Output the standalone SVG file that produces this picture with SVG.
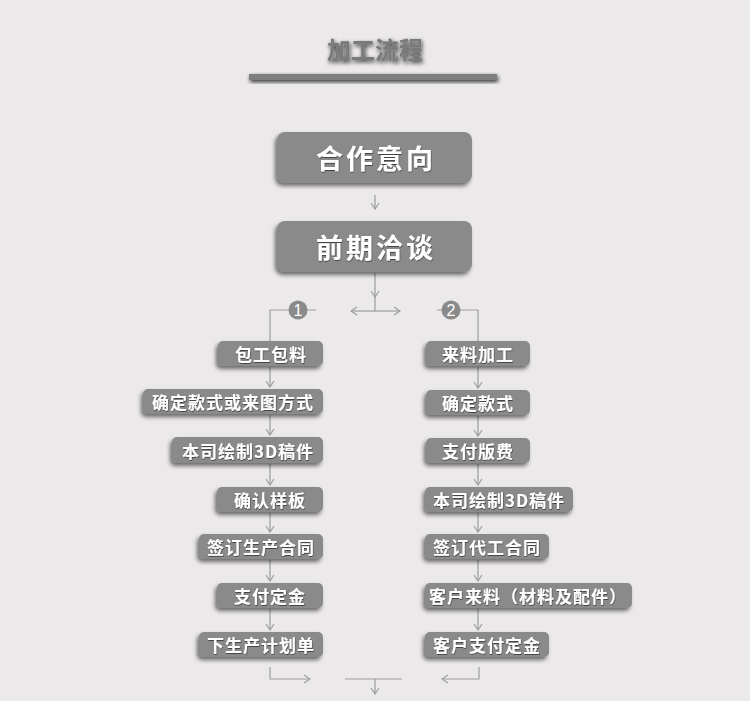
<svg xmlns="http://www.w3.org/2000/svg" width="750" height="701" viewBox="0 0 750 701">
<defs>
<style>
.box{fill:#8a8a8a;filter:url(#sh);}
.t{fill:#fff;font-family:"Noto Sans CJK SC","Noto Sans",sans-serif;font-weight:bold;font-size:17px;letter-spacing:1px;text-anchor:middle;dominant-baseline:central;filter:url(#tsh);}
.big{font-size:27px;letter-spacing:3px;}
.ln{fill:none;stroke:#9d9d9d;stroke-width:1.2;}
.ar{marker-end:url(#ah);}
.num{fill:#fff;font-family:"Liberation Sans",sans-serif;font-size:16px;text-anchor:middle;dominant-baseline:central;}
</style>
<filter id="sh" x="-20%" y="-30%" width="140%" height="170%">
<feDropShadow dx="-2" dy="3" stdDeviation="2" flood-color="#000" flood-opacity="0.55"/>
</filter>
<filter id="tsh" x="-10%" y="-20%" width="120%" height="150%">
<feDropShadow dx="0.5" dy="1" stdDeviation="0.6" flood-color="#000" flood-opacity="0.5"/>
</filter>
<filter id="tt" x="-20%" y="-60%" width="140%" height="220%">
<feDropShadow dx="1" dy="2" stdDeviation="2" flood-color="#000" flood-opacity="0.8"/>
</filter>
<marker id="ah" viewBox="0 0 10 10" refX="9" refY="5" markerWidth="10" markerHeight="10" markerUnits="userSpaceOnUse" orient="auto">
<path d="M3,1 L9,5 L3,9" fill="none" stroke="#9d9d9d" stroke-width="1.2"/>
</marker>
</defs>
<rect width="750" height="701" fill="#ece9ea"/>
<g id="title">
<text x="375" y="48" fill="#7a7a7a" font-family="Noto Sans CJK SC,sans-serif" font-weight="bold" font-size="24" text-anchor="middle" dominant-baseline="central" filter="url(#tt)">加工流程</text>
<rect x="249" y="74" width="248" height="6" fill="#7f7f7f" filter="url(#tt)"/>
</g>
<g id="connectors">
<path class="ln ar" d="M375,195 V209"/>
<path class="ln ar" d="M375,273 V297"/>
<path class="ln" d="M375,297 V311"/>
<path class="ln ar" d="M375,311 H351"/>
<path class="ln ar" d="M375,311 H400"/>
<path class="ln" d="M270,341 V310 H316"/>
<path class="ln" d="M478,341 V310 H437"/>
<path class="ln ar" d="M270,367 V387"/>
<path class="ln ar" d="M270,415 V435"/>
<path class="ln ar" d="M270,464 V485"/>
<path class="ln ar" d="M270,513 V532"/>
<path class="ln ar" d="M270,560 V581"/>
<path class="ln ar" d="M270,609 V630"/>
<path class="ln ar" d="M478,367 V388"/>
<path class="ln ar" d="M478,416 V436"/>
<path class="ln ar" d="M478,464 V485"/>
<path class="ln ar" d="M478,513 V532"/>
<path class="ln ar" d="M478,560 V581"/>
<path class="ln ar" d="M478,609 V630"/>
<path class="ln ar" d="M270,667 V679 H310"/>
<path class="ln ar" d="M479,667 V679 H442"/>
<path class="ln" d="M345,679 H402"/>
<path class="ln ar" d="M375,679 V694"/>
</g>
<g id="n0"><rect class="box" x="277" y="132" width="195" height="51" rx="8"/><text class="t big" x="376" y="157">合作意向</text></g>
<g id="n1"><rect class="box" x="277" y="221" width="195" height="51" rx="8"/><text class="t big" x="376" y="246">前期洽谈</text></g>
<g id="c1"><circle cx="298" cy="310" r="9.5" fill="#8a8a8a"/><text class="num" x="298" y="310">1</text></g>
<g id="c2"><circle cx="451" cy="310" r="9.5" fill="#8a8a8a"/><text class="num" x="451" y="310">2</text></g>
<g id="l1"><rect class="box" x="218" y="341" width="105" height="25" rx="5"/><text class="t" x="271" y="353">包工包料</text></g>
<g id="l2"><rect class="box" x="143" y="389" width="180" height="25" rx="5"/><text class="t" x="233" y="401">确定款式或来图方式</text></g>
<g id="l3"><rect class="box" x="172" y="437" width="151" height="26" rx="5"/><text class="t" x="248" y="450">本司绘制3D稿件</text></g>
<g id="l4"><rect class="box" x="217" y="487" width="106" height="25" rx="5"/><text class="t" x="270" y="499">确认样板</text></g>
<g id="l5"><rect class="box" x="199" y="534" width="124" height="25" rx="5"/><text class="t" x="261" y="546">签订生产合同</text></g>
<g id="l6"><rect class="box" x="217" y="583" width="106" height="25" rx="5"/><text class="t" x="270" y="595">支付定金</text></g>
<g id="l7"><rect class="box" x="199" y="632" width="124" height="25" rx="5"/><text class="t" x="261" y="644">下生产计划单</text></g>
<g id="r1"><rect class="box" x="426" y="341" width="104" height="25" rx="5"/><text class="t" x="478" y="353">来料加工</text></g>
<g id="r2"><rect class="box" x="426" y="390" width="104" height="25" rx="5"/><text class="t" x="478" y="402">确定款式</text></g>
<g id="r3"><rect class="box" x="426" y="438" width="104" height="25" rx="5"/><text class="t" x="478" y="450">支付版费</text></g>
<g id="r4"><rect class="box" x="425" y="487" width="148" height="25" rx="5"/><text class="t" x="499" y="499">本司绘制3D稿件</text></g>
<g id="r5"><rect class="box" x="425" y="534" width="124" height="25" rx="5"/><text class="t" x="487" y="546">签订代工合同</text></g>
<g id="r6"><rect class="box" x="425" y="583" width="207" height="25" rx="5"/><text class="t" x="528" y="595">客户来料（材料及配件）</text></g>
<g id="r7"><rect class="box" x="425" y="632" width="124" height="25" rx="5"/><text class="t" x="487" y="644">客户支付定金</text></g>
</svg>
